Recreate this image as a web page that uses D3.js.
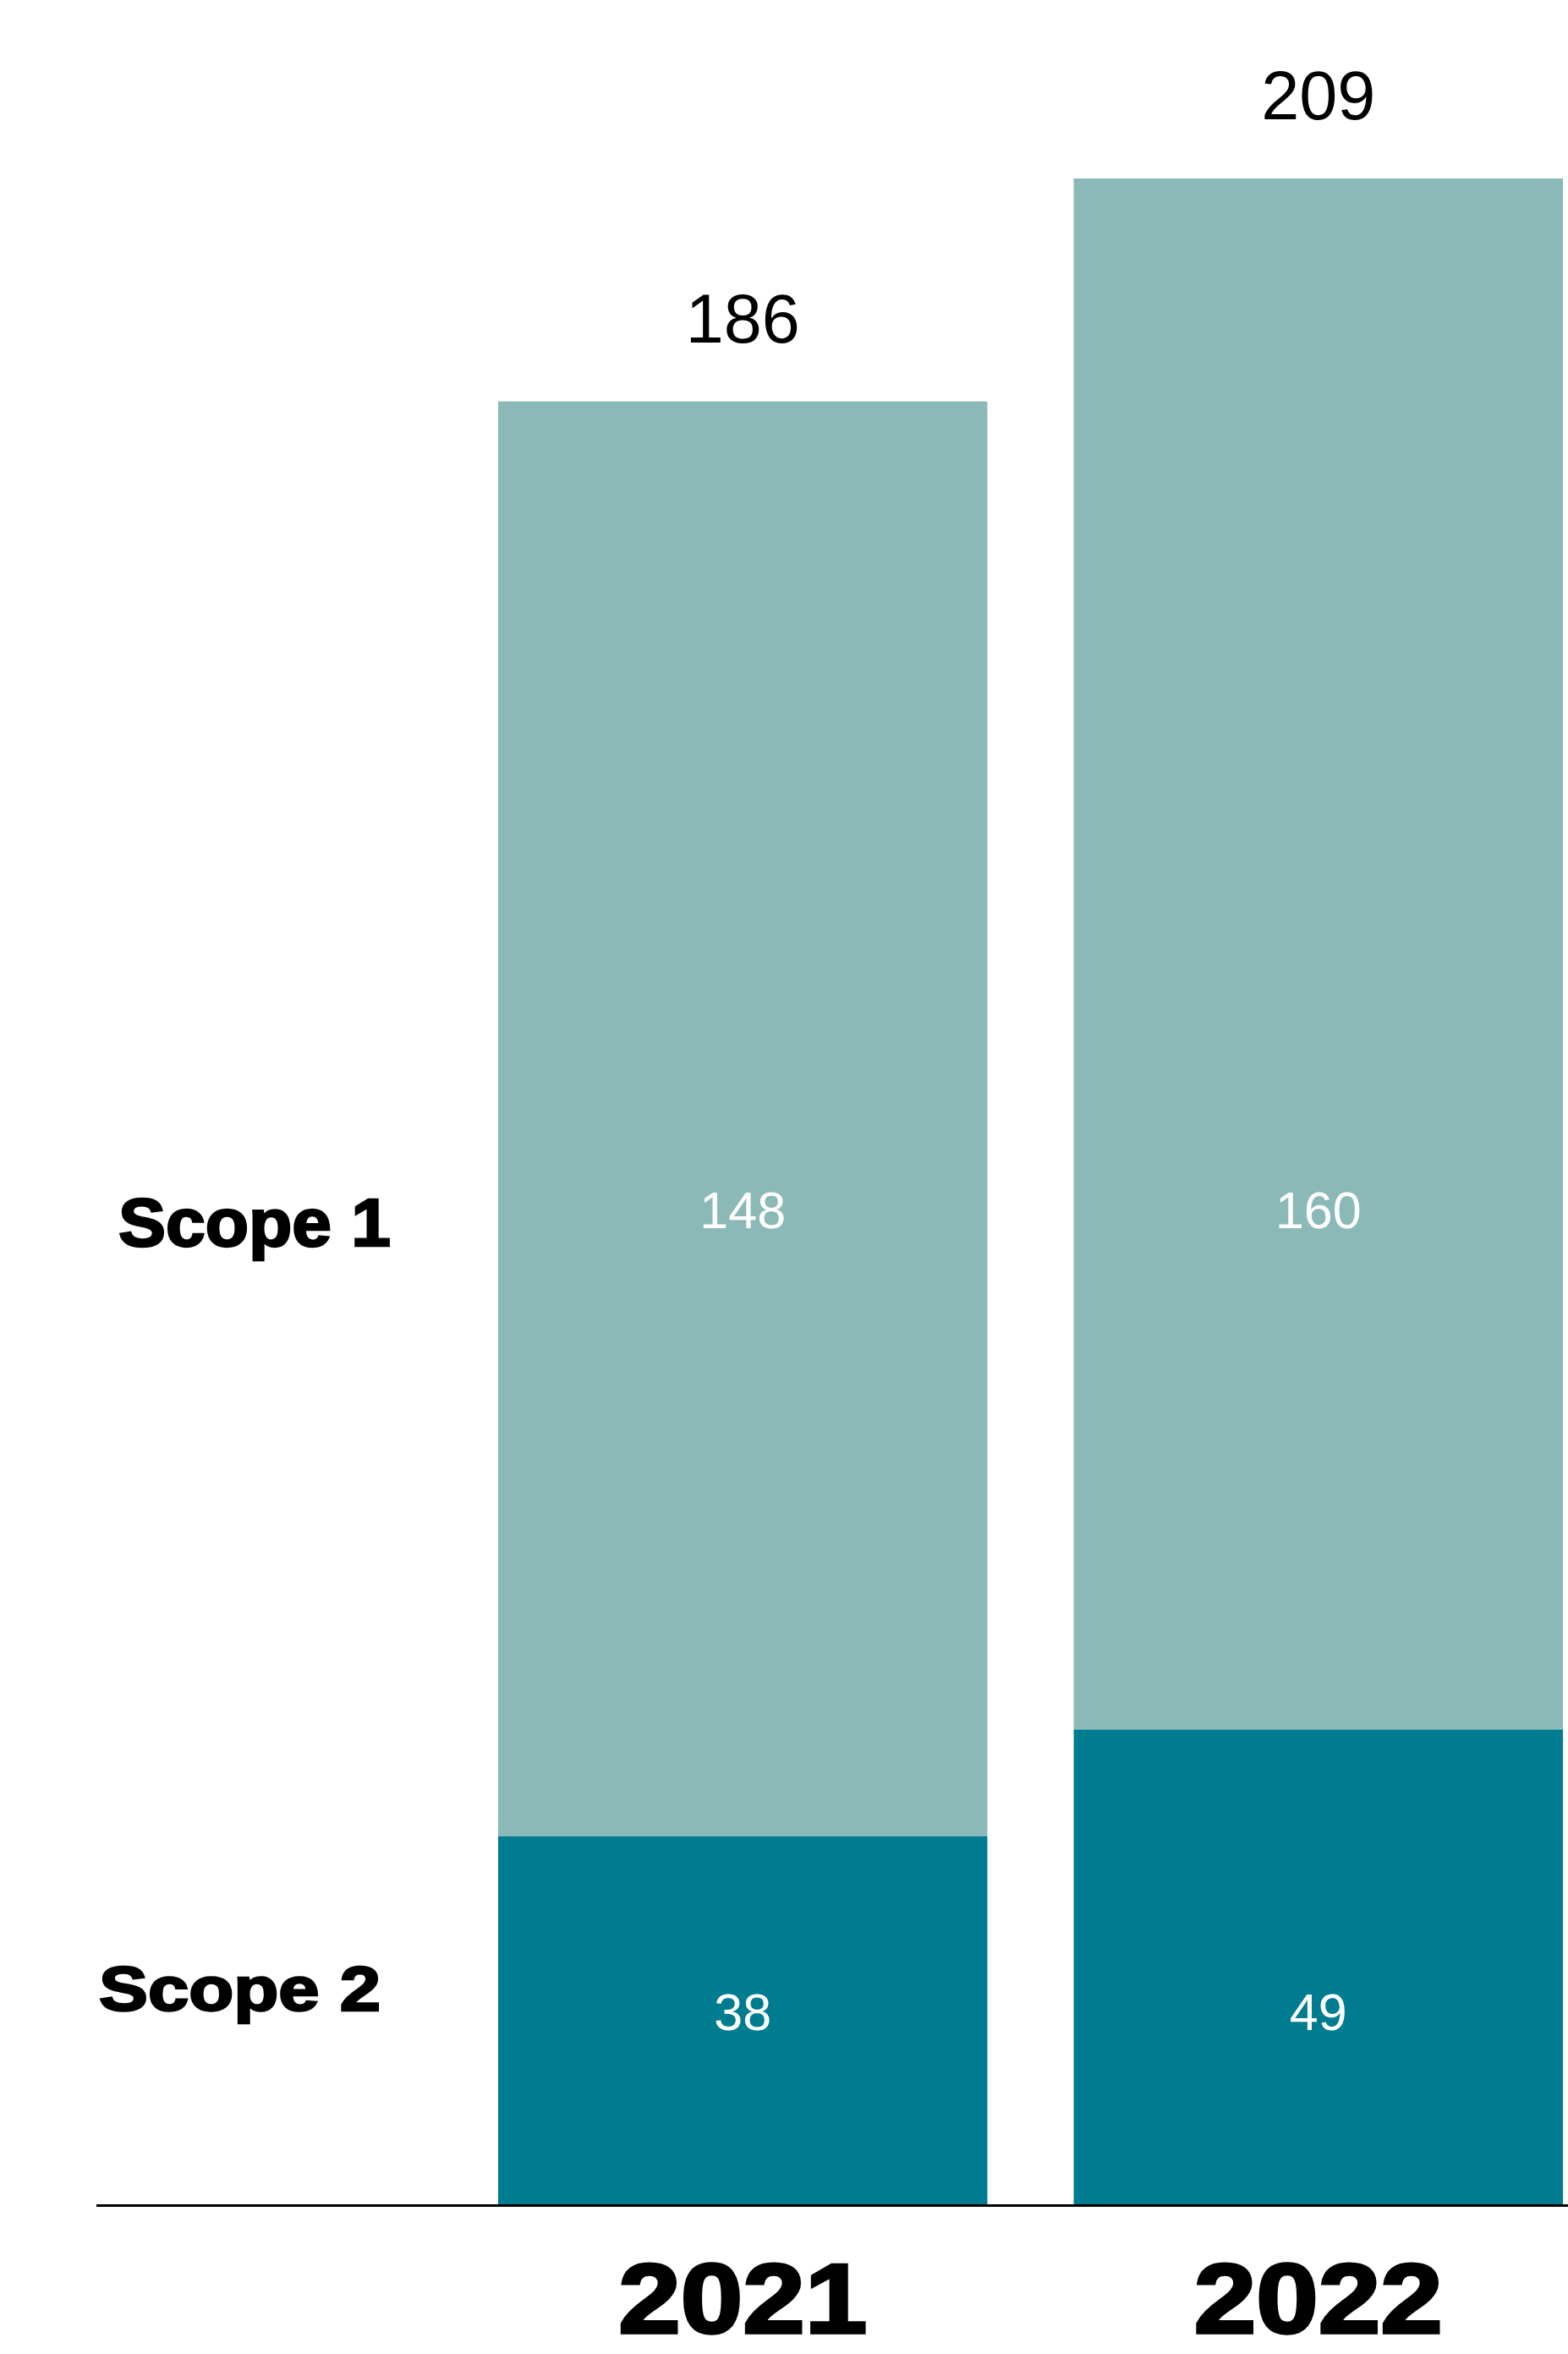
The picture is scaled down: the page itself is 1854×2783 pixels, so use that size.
<!DOCTYPE html>
<html>
<head>
<meta charset="utf-8">
<script src="https://cdn.jsdelivr.net/npm/d3@7"></script>
<style>
  html, body { margin: 0; padding: 0; background: #ffffff; }
  svg { display: block; }
  text { font-family: "Liberation Sans", Arial, Helvetica, sans-serif; }
</style>
</head>
<body>
<svg id="chart" width="1854" height="2783"></svg>
<script>
// ---- data ----
const years = ["2021", "2022"];
const scope1 = [148, 160];
const scope2 = [38, 49];
const totals = [186, 209];
const seriesNames = ["Scope 1", "Scope 2"];
const seriesColors = ["#8bb9b7", "#007c91"];

// ---- layout ----
const W = 1854, H = 2783;
const baseY = 2606;
const svg = d3.select("#chart");

const rows = years.map((y, i) => ({ year: y, s2: scope2[i], s1: scope1[i], total: totals[i] }));
const stack = d3.stack().keys(["s2", "s1"]);
const stacked = stack(rows);

const x = d3.scaleBand().domain(years).range([589, 1848]).paddingInner(0.15).paddingOuter(0);
const y = d3.scaleLinear().domain([0, d3.max(totals)]).range([baseY, 211]);
const color = d3.scaleOrdinal().domain(["s1", "s2"]).range(seriesColors);

// bars
svg.append("g").selectAll("g")
  .data(stacked).join("g")
  .attr("fill", d => color(d.key))
  .selectAll("rect")
  .data(d => d).join("rect")
  .attr("x", d => x(d.data.year))
  .attr("width", x.bandwidth())
  .attr("y", d => y(d[1]))
  .attr("height", d => y(d[0]) - y(d[1]));

// baseline
svg.append("line")
  .attr("x1", 114).attr("x2", W)
  .attr("y1", baseY + 1.5).attr("y2", baseY + 1.5)
  .attr("stroke", "#000").attr("stroke-width", 3);

// total labels
svg.append("g").selectAll("text")
  .data(rows).join("text")
  .attr("x", d => x(d.year) + x.bandwidth() / 2)
  .attr("y", d => y(d.total) - 70)
  .attr("text-anchor", "middle")
  .attr("font-size", 81)
  .attr("fill", "#000")
  .text(d => d.total);

// inner value labels (aligned on series rows)
const rowBase = { s1: 1452, s2: 2400 };
["s1", "s2"].forEach(k => {
  svg.append("g").selectAll("text")
    .data(rows).join("text")
    .attr("x", d => x(d.year) + x.bandwidth() / 2)
    .attr("y", rowBase[k])
    .attr("text-anchor", "middle")
    .attr("font-size", 61)
    .attr("fill", "#ffffff")
    .text(d => d[k]);
});

// series labels on the left
const seriesLabel = [
  { name: seriesNames[0], x: 140, y: 1473, size: 80, len: 322 },
  { name: seriesNames[1], x: 117, y: 2377, size: 74, len: 333 }
];
svg.append("g").selectAll("text")
  .data(seriesLabel).join("text")
  .attr("x", d => d.x)
  .attr("y", d => d.y)
  .attr("font-size", d => d.size)
  .attr("font-weight", "bold")
  .attr("fill", "#000")
  .attr("stroke", "#000")
  .attr("stroke-width", 2.5)
  .attr("textLength", d => d.len)
  .attr("lengthAdjust", "spacingAndGlyphs")
  .text(d => d.name);

// year labels
svg.append("g").selectAll("text")
  .data(years).join("text")
  .attr("x", d => x(d) + x.bandwidth() / 2)
  .attr("y", 2758)
  .attr("text-anchor", "middle")
  .attr("font-size", 116)
  .attr("font-weight", "bold")
  .attr("fill", "#000")
  .attr("stroke", "#000")
  .attr("stroke-width", 3.5)
  .attr("textLength", 294)
  .attr("lengthAdjust", "spacingAndGlyphs")
  .text(d => d);
</script>
</body>
</html>
